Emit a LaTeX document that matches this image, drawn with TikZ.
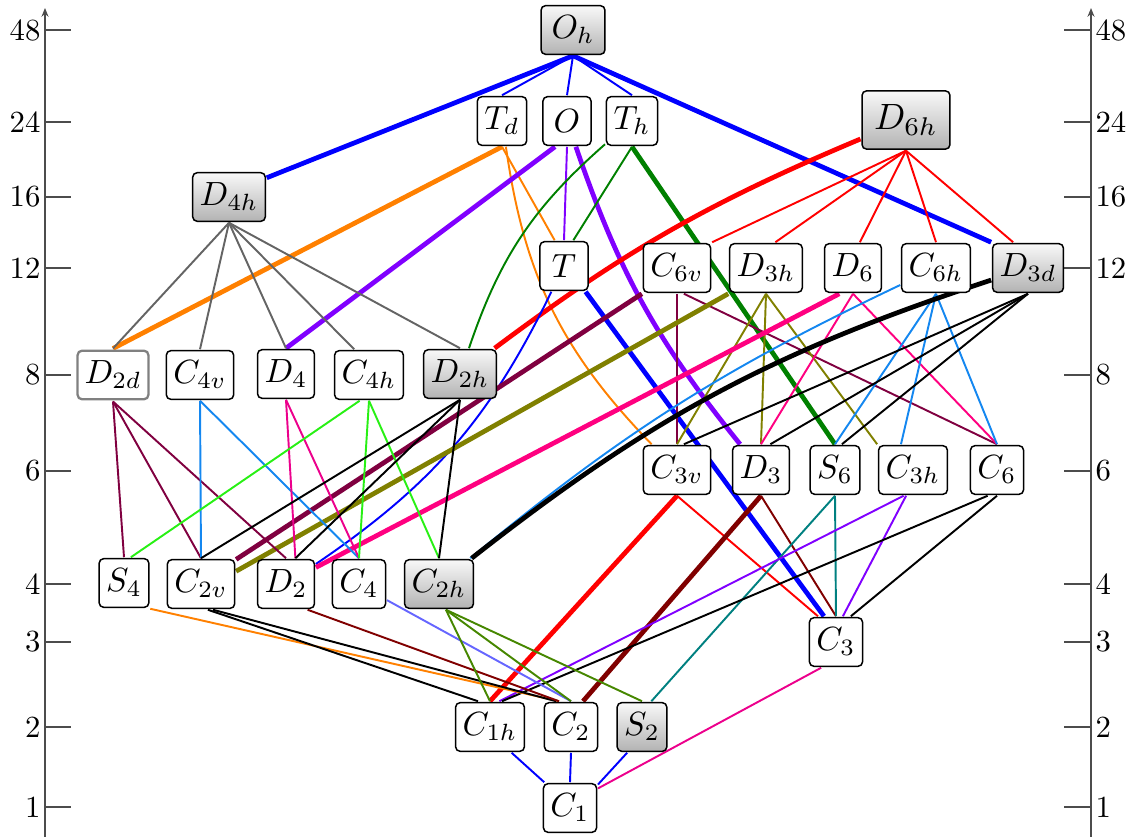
\documentclass[tikz,border=0pt]{standalone}
\usepackage{amsmath,amssymb}
\usetikzlibrary{shapes, arrows.meta, shadows, backgrounds}

\definecolor{corange}{RGB}{255,128,0}
\definecolor{cviolet}{RGB}{128,0,255}
\definecolor{cgreen}{RGB}{0,128,0}
\definecolor{cgray}{RGB}{100,100,100}
\definecolor{cmaroon}{RGB}{128,0,64}
\definecolor{colive}{RGB}{128,128,0}
\definecolor{cpink}{RGB}{255,0,128}
\definecolor{cazure}{RGB}{20,135,240}
\definecolor{clime}{RGB}{40,240,20}
\definecolor{cbrown}{RGB}{128,0,0}
\definecolor{cteal}{RGB}{0,128,128}
\definecolor{clavender}{RGB}{102,102,255}
\definecolor{cleaf}{RGB}{70,135,0}

\tikzset{
	grp/.style={draw=black, line width=0.85pt, rounded corners=2.6pt, fill=white, inner sep=2.1pt,
		minimum width=0.505cm, minimum height=0.51cm, scale=1.91, transform shape},
	grpshade/.style={grp, top color=gray!5, bottom color=gray!60,
		drop shadow={opacity=0.25, shadow xshift=0.4pt, shadow yshift=-0.4pt}},
	tick/.style={inner sep=0pt, scale=1.75, transform shape},
	lnk/.style={line width=1.1pt},
	lnkbold/.style={line width=2.7pt},
	axisline/.style={draw=black!70, line width=0.75pt},
}

\begin{document}
\begin{tikzpicture}[x=0.02cm, y=-0.02cm]
		\useasboundingbox (0,0) rectangle (1133,837);
		\draw[axisline, -{Stealth[length=5pt, width=4pt]}] (45,837) -- (45,8);
		\draw[axisline, -{Stealth[length=5pt, width=4pt]}] (1091,837) -- (1091,8);
		\foreach \v/\y in {48/30, 24/122, 16/197, 12/268, 8/375, 6/471, 4/584, 3/642, 2/727, 1/807} {
			\draw[axisline] (45,\y) -- (71,\y);
			\draw[axisline] (1064,\y) -- (1091,\y);
			\node[tick, anchor=east] (l\v) at (41,\y) {\v};
			\node[tick, anchor=west] (r\v) at (1095,\y) {\v};
		}
		\node[grpshade, minimum width=0.67cm] (Oh) at (573,30) {$O_h$};
		\node[grp] (Td) at (502,121) {$T_d$};
		\node[grp] (O) at (567,121) {$O$};
		\node[grp] (Th) at (632,121) {$T_h$};
		\node[grpshade, scale=1.09, inner sep=3.3pt, minimum height=0.56cm] (D6h) at (906,120) {$D_{6h}$};
		\node[grpshade] (D4h) at (229,197) {$D_{4h}$};
		\node[grp] (T) at (564,266) {$T$};
		\node[grp] (C6v) at (677,268) {$C_{6v}$};
		\node[grp] (D3h) at (766,268) {$D_{3h}$};
		\node[grp] (D6) at (853,268) {$D_6$};
		\node[grp] (C6h) at (936,268) {$C_{6h}$};
		\node[grpshade] (D3d) at (1028,268) {$D_{3d}$};
		\node[grp, draw=gray, line width=1.3pt] (D2d) at (113,375) {$D_{2d}$};
		\node[grp] (C4v) at (200,375) {$C_{4v}$};
		\node[grp] (D4) at (286,374) {$D_4$};
		\node[grp] (C4h) at (369,375) {$C_{4h}$};
		\node[grpshade] (D2h) at (460,374) {$D_{2h}$};
		\node[grp] (C3v) at (677,470) {$C_{3v}$};
		\node[grp] (D3) at (761,470) {$D_3$};
		\node[grp] (S6) at (835,470) {$S_6$};
		\node[grp] (C3h) at (913,470) {$C_{3h}$};
		\node[grp] (C6) at (997,470) {$C_6$};
		\node[grp] (S4) at (124,583) {$S_4$};
		\node[grp] (C2v) at (201,584) {$C_{2v}$};
		\node[grp] (D2) at (286,584) {$D_2$};
		\node[grp] (C4) at (359,584) {$C_4$};
		\node[grpshade] (C2h) at (439,584) {$C_{2h}$};
		\node[grp] (C3) at (836,642) {$C_3$};
		\node[grp] (C1h) at (490,727) {$C_{1h}$};
		\node[grp] (C2) at (571,727) {$C_2$};
		\node[grpshade] (S2) at (642,727) {$S_2$};
		\node[grp] (C1) at (570,808) {$C_1$};
		\begin{scope}[on background layer]
		\draw[lnkbold, blue] (Oh.south) -- (D4h.27);
		\draw[lnk, blue] (Oh.south) -- (Td.north);
		\draw[lnk, blue] (Oh.south) -- (O.north);
		\draw[lnk, blue] (Oh.south) -- (Th.north);
		\draw[lnkbold, blue] (Oh.south) -- (D3d.north west);
		\draw[lnkbold, corange] (Td.south) -- (D2d.north);
		\draw[lnk, corange] (Td.south) -- (T.110);
		\draw[lnk, corange] (Td) to[bend right=18] (C3v);
		\draw[lnkbold, cviolet] (O.-115) -- (D4.north);
		\draw[lnk, cviolet] (O.south) -- (T.north);
		\draw[lnkbold, cviolet] (O) to[bend right=10] (D3);
		\draw[lnk, cgreen] (Th) to[bend right=15] (D2h);
		\draw[lnk, cgreen] (Th.south) -- (T.70);
		\draw[lnkbold, cgreen] (Th.south) -- (S6.north);
		\draw[lnkbold, red] (D6h) to[bend right=7] (D2h);
		\draw[lnk, red] (D6h.south) -- (C6v.north east);
		\draw[lnk, red] (D6h.south) -- (D3h.70);
		\draw[lnk, red] (D6h.south) -- (D6.75);
		\draw[lnk, red] (D6h.south) -- (C6h.north);
		\draw[lnk, red] (D6h.south) -- (D3d.120);
		\draw[lnk, cgray] (D4h.south) -- (D2d.north);
		\draw[lnk, cgray] (D4h.south) -- (C4v.north);
		\draw[lnk, cgray] (D4h.south) -- (D4.north);
		\draw[lnk, cgray] (D4h.south) -- (C4h.120);
		\draw[lnk, cgray] (D4h.south) -- (D2h.north);
		\draw[lnk, blue] (T) to[bend left=15] (D2);
		\draw[lnkbold, blue] (T.-50) -- (C3.115);
		\draw[lnkbold, cmaroon] (C6v.south west) -- (C2v.35);
		\draw[lnk, cmaroon] (C6v.south) -- (C3v.north);
		\draw[lnk, cmaroon] (C6v.-75) -- (C6.north);
		\draw[lnkbold, colive] (D3h.south west) -- (C2v.20);
		\draw[lnk, colive] (D3h.south) -- (C3v.north);
		\draw[lnk, colive] (D3h.south) -- (D3.north);
		\draw[lnk, colive] (D3h.south) -- (C3h.north west);
		\draw[lnkbold, cpink] (D6.-118) -- (D2.29);
		\draw[lnk, cpink] (D6.south) -- (D3.north);
		\draw[lnk, cpink] (D6.south) -- (C6.north);
		\draw[lnk, cazure] (C6h) to[bend right=7] (C2h);
		\draw[lnk, cazure] (C6h.south) -- (S6.north);
		\draw[lnk, cazure] (C6h.south) -- (C3h.115);
		\draw[lnk, cazure] (C6h.south) -- (C6.north);
		\draw[lnkbold, black] (D3d) to[bend right=10] (C2h);
		\draw[lnk, black] (D3d.south) -- (C3v.75);
		\draw[lnk, black] (D3d.south) -- (D3.70);
		\draw[lnk, black] (D3d.south) -- (S6.75);
		\draw[lnk, cmaroon] (D2d.south) -- (S4.north);
		\draw[lnk, cmaroon] (D2d.south) -- (C2v.north);
		\draw[lnk, cmaroon] (D2d.south) -- (D2.north);
		\draw[lnk, cazure] (C4v.south) -- (C2v.north);
		\draw[lnk, cazure] (C4v.south) -- (C4.north);
		\draw[lnk, magenta] (D4.south) -- (D2.70);
		\draw[lnk, magenta] (D4.south) -- (C4.north);
		\draw[lnk, clime] (C4h.-110) -- (S4.75);
		\draw[lnk, clime] (C4h.south) -- (C4.north);
		\draw[lnk, clime] (C4h.south) -- (C2h.north);
		\draw[lnk, black] (D2h.south) -- (C2v.north);
		\draw[lnk, black] (D2h.south) -- (D2.70);
		\draw[lnk, black] (D2h.south) -- (C2h.north);
		\draw[lnkbold, red] (C3v.south) -- (C1h.north);
		\draw[lnk, red] (C3v.south) -- (C3.125);
		\draw[lnkbold, cbrown] (D3.south) -- (C2.65);
		\draw[lnk, cbrown] (D3.south) -- (C3.north);
		\draw[lnk, cteal] (S6.south) -- (S2.70);
		\draw[lnk, cteal] (S6.south) -- (C3.north);
		\draw[lnk, cviolet] (C3h.-110) -- (C1h.70);
		\draw[lnk, cviolet] (C3h.-105) -- (C3.75);
		\draw[lnk, black] (C6.-110) -- (C1h.65);
		\draw[lnk, black] (C6.south) -- (C3.60);
		\draw[lnk, corange] (S4.south east) -- (C2.115);
		\draw[lnk, black] (C2v.-75) -- (C1h.115);
		\draw[lnk, black] (C2v.-65) -- (C2.120);
		\draw[lnk, cbrown] (D2.-50) -- (C2.115);
		\draw[lnk, clavender] (C4.-30) -- (C2.north);
		\draw[lnk, cleaf] (C2h.-75) -- (C1h.north);
		\draw[lnk, cleaf] (C2h.-75) -- (C2.north);
		\draw[lnk, cleaf] (C2h.-75) -- (S2.north);
		\draw[lnk, magenta] (C3.-120) -- (C1.35);
		\draw[lnk, blue] (C1h.-50) -- (C1.135);
		\draw[lnk, blue] (C2.south) -- (C1.north);
		\draw[lnk, blue] (S2.-120) -- (C1.40);
		\end{scope}
	\end{tikzpicture}
\end{document}
